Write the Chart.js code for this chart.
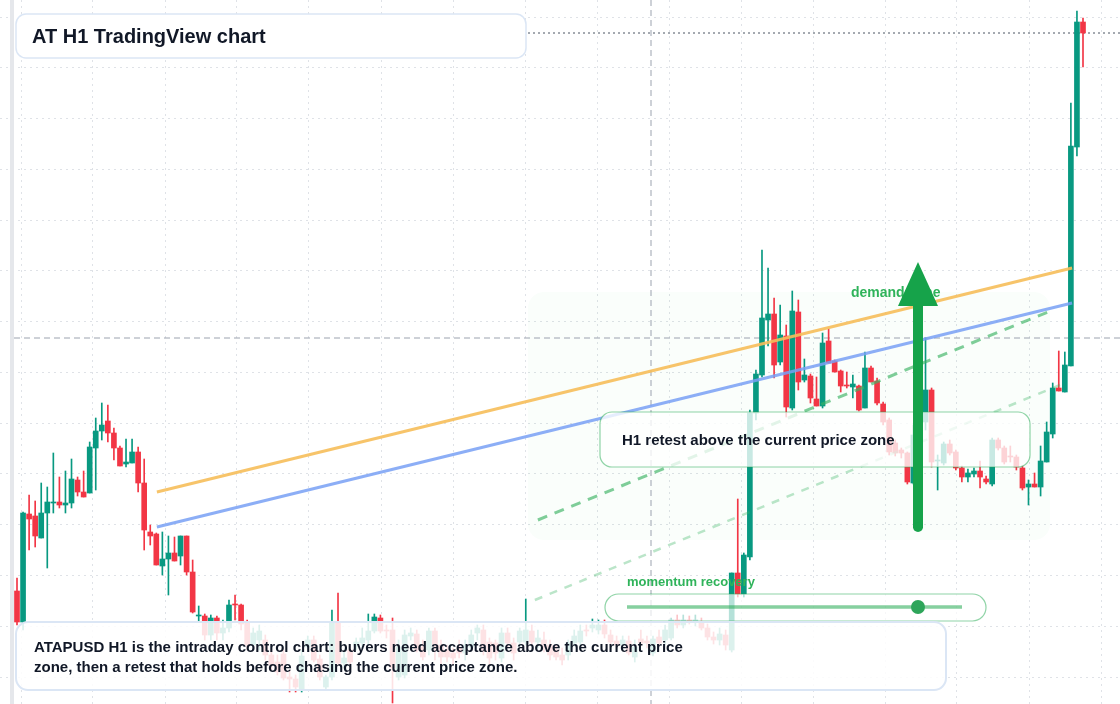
<!DOCTYPE html>
<html>
<head>
<meta charset="utf-8">
<script src="https://cdn.jsdelivr.net/npm/chart.js@4"></script>
<style>
  html, body { margin: 0; padding: 0; background: #fff; }
  #wrap { position: relative; width: 1120px; height: 704px; }
</style>
</head>
<body>
<div id="wrap"><canvas id="chart"></canvas></div>
<script>
// ============================================
// ATAPUSD H1 - candles
// levels are chart units, top of chart = 0 (scale is reversed)
// ============================================

const opens = [591,622,514,516,538,513,503,502,505,503,480,492,493,448,431,421,433,448,464,463,452,483,532,534,566,559,553,556,536,572,
  616,616,635,618,633,628,604,605,622,645,640,640,655,662,654,677,679,689,647,640,659,687,677,622,663,650,646,643,640,631,
  618,630,630,677,675,636,634,647,650,631,645,650,653,648,653,647,633,630,642,643,658,633,643,642,642,631,642,640,645,650,
  655,655,643,642,630,628,630,625,635,641,645,641,657,639,641,653,637,640,638,620,625,620,622,622,628,637,640,635,650,573,
  594,557,413,375,320,314,362,336,408,312,380,376,399,406,341,361,371,385,387,386,408,368,381,404,420,443,450,453,483,435,
  422,390,461,463,444,452,468,477,474,471,479,484,440,448,456,457,468,487,484,487,462,434,388,392,366,147,22];
const highs = [578,512,495,501,483,487,453,477,471,459,477,471,442,418,403,405,428,446,439,439,447,459,525,533,532,536,537,536,536,560,
  606,614,615,616,620,600,595,604,620,628,625,635,650,655,650,670,675,650,636,636,655,675,610,593,650,645,638,628,614,614,
  615,625,618,640,630,628,630,640,628,628,640,645,648,640,640,630,625,625,638,640,628,628,638,628,599,625,630,632,640,645,
  648,640,630,625,625,619,620,620,630,636,636,636,640,630,636,636,630,625,618,615,615,616,615,618,624,632,628,630,573,499,
  553,410,370,250,268,298,305,325,291,300,359,374,377,333,329,360,370,372,375,385,352,366,378,402,418,440,448,452,425,420,
  338,388,455,442,440,450,466,469,468,461,476,438,438,446,446,455,466,480,473,446,422,383,351,352,103,11,18];
const lows = [625,630,550,547,538,568,513,508,513,508,496,497,493,490,440,442,460,466,467,463,492,550,545,565,575,595,561,565,575,613,
  622,640,640,640,640,632,620,630,650,650,650,660,670,675,680,692,692,692,650,662,680,690,680,665,668,665,650,648,645,633,
  633,638,703,680,678,640,652,660,655,660,665,662,665,658,660,650,640,655,665,660,662,648,660,648,645,645,648,652,660,660,
  665,660,646,645,636,632,634,638,645,648,650,655,662,646,648,656,645,644,640,628,628,624,626,630,640,644,645,650,652,597,
  597,560,420,377,346,378,365,417,410,390,382,403,406,408,363,372,392,388,398,411,408,382,405,425,455,456,458,484,484,440,
  430,467,490,465,455,470,482,482,477,488,484,486,450,464,462,470,490,505,487,496,462,438,391,392,366,156,67];
const closes = [622,513,519,536,513,502,502,505,503,479,492,497,447,431,425,433,448,466,462,452,483,530,536,565,559,553,561,536,572,612,
  615,635,618,633,628,605,605,624,645,633,631,655,665,672,678,679,687,656,640,660,677,677,623,663,658,662,642,638,631,617,
  631,631,668,647,635,633,650,657,631,645,657,657,658,653,645,635,628,650,658,653,633,643,653,631,630,642,638,648,655,657,
  660,643,636,631,631,625,625,634,642,645,640,653,647,643,643,639,643,630,620,625,620,622,620,628,637,640,634,645,573,594,
  555,413,374,318,314,365,335,407,311,382,375,398,406,343,363,372,386,386,384,410,368,382,403,422,452,453,453,482,435,423,
  390,462,460,444,453,468,477,473,471,477,482,440,448,462,457,467,488,484,487,461,432,388,391,365,146,22,33];

// horizontal grid levels and the last-price level
const gridLevels = [17, 67, 118, 169, 220, 270, 321, 372, 423, 473, 524, 575, 626, 677];
const lastPrice = 33;
const crossLevel = 338;

// overlay trend lines: [candle index, level]
const emaFast = [[23.1, 492], [174.2, 268]];
const emaSlow = [[23.1, 527], [174.2, 303]];
const guideUpper = [[86, 520], [170.2, 312]];
const guideLower = [[85.5, 600], [172.2, 385]];

const title = 'AT H1 TradingView chart';
const noteLines = [
  'ATAPUSD H1 is the intraday control chart: buyers need acceptance above the current price',
  'zone, then a retest that holds before chasing the current price zone.'
];

const UP = '#089981';
const DOWN = '#f23645';
const n = opens.length;
const step = 1066 / (n - 1);
const xMin = -17 / step;
const xMax = xMin + 1120 / step;

const wicks = [], bodies = [], colors = [];
for (let i = 0; i < n; i++) {
    wicks.push({ x: i, y: [lows[i], highs[i]] });
    bodies.push({ x: i, y: [opens[i], closes[i]] });
    colors.push(closes[i] <= opens[i] ? UP : DOWN);
}

function roundBox(ctx, x, y, w, h, r, fill, stroke, lw) {
    ctx.beginPath();
    ctx.roundRect(x, y, w, h, r);
    if (fill) { ctx.fillStyle = fill; ctx.fill(); }
    if (stroke) { ctx.strokeStyle = stroke; ctx.lineWidth = lw || 1.5; ctx.stroke(); }
}

const overlays = {
    id: 'overlays',
    beforeDatasetsDraw(chart) {
        const ctx = chart.ctx;
        ctx.save();
        // left strip
        ctx.fillStyle = '#e5e7eb';
        ctx.fillRect(10, 0, 4, 704);
        // demand zone
        roundBox(ctx, 528, 292, 522, 248, 16, 'rgba(34,197,94,0.025)');
        // crosshair
        ctx.setLineDash([6, 4]);
        ctx.strokeStyle = '#9ca3af';
        ctx.lineWidth = 1;
        const cy = chart.scales.y.getPixelForValue(crossLevel);
        ctx.beginPath(); ctx.moveTo(14, cy); ctx.lineTo(1120, cy); ctx.stroke();
        ctx.beginPath(); ctx.moveTo(651, 0); ctx.lineTo(651, 704); ctx.stroke();
        // last price
        ctx.setLineDash([2, 3]);
        ctx.strokeStyle = '#4b5563';
        const py = chart.scales.y.getPixelForValue(lastPrice);
        ctx.beginPath(); ctx.moveTo(528, py); ctx.lineTo(1120, py); ctx.stroke();
        ctx.restore();
    },
    afterDatasetsDraw(chart) {
        const ctx = chart.ctx;
        ctx.save();
        // title
        roundBox(ctx, 16, 14, 510, 44, 10, '#ffffff', '#dbe6f5', 1.5);
        ctx.fillStyle = '#111827';
        ctx.font = 'bold 20px "Liberation Sans", Arial, sans-serif';
        ctx.textBaseline = 'middle';
        ctx.fillText(title, 32, 37);

        // demand zone label
        ctx.fillStyle = '#2fb35a';
        ctx.font = 'bold 14px "Liberation Sans", Arial, sans-serif';
        ctx.fillText('demand zone', 851, 293);

        // retest box
        roundBox(ctx, 600, 412, 430, 55, 12, 'rgba(255,255,255,0.78)', 'rgba(34,170,80,0.5)', 1.2);
        ctx.fillStyle = '#111827';
        ctx.font = 'bold 15px "Liberation Sans", Arial, sans-serif';
        ctx.fillText('H1 retest above the current price zone', 622, 441);

        // arrow
        ctx.fillStyle = '#16a34a';
        ctx.fillRect(913, 300, 10, 228);
        ctx.beginPath(); ctx.arc(918, 527, 5, 0, Math.PI * 2); ctx.fill();
        ctx.beginPath();
        ctx.moveTo(918, 262); ctx.lineTo(938, 306); ctx.lineTo(898, 306);
        ctx.closePath(); ctx.fill();

        // momentum
        ctx.fillStyle = '#2fb35a';
        ctx.font = 'bold 13px "Liberation Sans", Arial, sans-serif';
        ctx.fillText('momentum recovery', 627, 582);
        roundBox(ctx, 605, 594, 381, 27, 13.5, 'rgba(255,255,255,0.7)', 'rgba(34,170,80,0.5)', 1.2);
        ctx.strokeStyle = 'rgba(34,170,80,0.55)';
        ctx.lineWidth = 3.5;
        ctx.beginPath(); ctx.moveTo(627, 607); ctx.lineTo(962, 607); ctx.stroke();
        ctx.fillStyle = '#2ea55a';
        ctx.beginPath(); ctx.arc(918, 607, 7, 0, Math.PI * 2); ctx.fill();

        // bottom note
        roundBox(ctx, 16, 622, 930, 68, 12, 'rgba(255,255,255,0.86)', '#dbe6f5', 2);
        ctx.fillStyle = '#111827';
        ctx.font = 'bold 15px "Liberation Sans", Arial, sans-serif';
        ctx.fillText(noteLines[0], 34, 648);
        ctx.fillText(noteLines[1], 34, 668);
        ctx.restore();
    }
};

const toPts = arr => arr.map(p => ({ x: p[0], y: p[1] }));

new Chart(document.getElementById('chart'), {
    type: 'bar',
    data: {
        datasets: [
            { type: 'line', data: toPts(emaFast), borderColor: 'rgba(246,190,90,0.9)', borderWidth: 3, pointRadius: 0, order: 1 },
            { type: 'line', data: toPts(emaSlow), borderColor: 'rgba(120,160,245,0.85)', borderWidth: 3, pointRadius: 0, order: 1 },
            { type: 'line', data: toPts(guideUpper), borderColor: 'rgba(60,180,100,0.65)', borderWidth: 3, borderDash: [10, 8], pointRadius: 0, order: 1 },
            { type: 'line', data: toPts(guideLower), borderColor: 'rgba(60,180,100,0.35)', borderWidth: 2.5, borderDash: [8, 8], pointRadius: 0, order: 1 },
            { data: wicks, backgroundColor: colors, barThickness: 1, grouped: false, order: 3 },
            { data: bodies, backgroundColor: colors, barThickness: 5, minBarLength: 1, grouped: false, order: 2 }
        ]
    },
    options: {
        responsive: true,
        maintainAspectRatio: false,
        animation: false,
        layout: { padding: 0 },
        plugins: { legend: { display: false }, tooltip: { enabled: false } },
        scales: {
            x: {
                type: 'linear', min: xMin, max: xMax, offset: false,
                ticks: { display: false },
                border: { display: false, dash: [2, 4] },
                grid: { color: '#dfe2e7', drawTicks: false },
                afterBuildTicks: s => {
                    const t = [];
                    for (let px = 57; px < 1120; px += 72) t.push({ value: (px - 17) / step });
                    s.ticks = t;
                }
            },
            y: {
                reverse: true, min: 0, max: 704,
                ticks: { display: false },
                border: { display: false, dash: [2, 4] },
                grid: { color: '#dfe2e7', drawTicks: false },
                afterBuildTicks: s => { s.ticks = gridLevels.map(v => ({ value: v })); }
            }
        }
    },
    plugins: [overlays]
});
</script>
</body>
</html>
